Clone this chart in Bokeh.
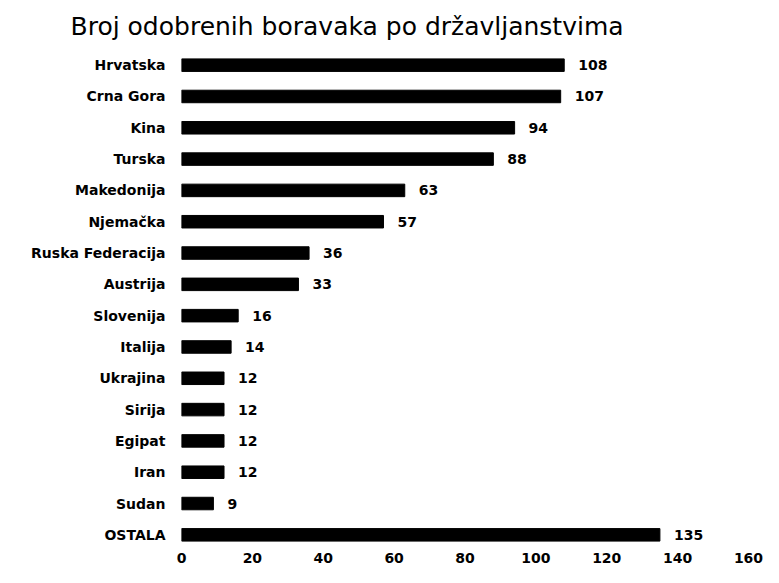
from bokeh.plotting import figure
from bokeh.models import ColumnDataSource, FactorRange, Range1d, FixedTicker, LabelSet
from bokeh.core.properties import value
from bokeh.embed import file_html
from bokeh.resources import INLINE

categories = ["Hrvatska", "Crna Gora", "Kina", "Turska", "Makedonija", "Njemačka",
              "Ruska Federacija", "Austrija", "Slovenija", "Italija", "Ukrajina",
              "Sirija", "Egipat", "Iran", "Sudan", "OSTALA"]
values = [108, 107, 94, 88, 63, 57, 36, 33, 16, 14, 12, 12, 12, 12, 9, 135]
x_ticks = [0, 20, 40, 60, 80, 100, 120, 140, 160]

source = ColumnDataSource(data=dict(cat=categories, val=values,
                                    lbl=[str(v) for v in values]))

p = figure(width=763, height=567, output_backend="svg", toolbar_location=None,
           y_range=FactorRange(factors=list(reversed(categories))),
           x_range=Range1d(0, 160),
           min_border_left=181, min_border_right=15, min_border_top=48,
           min_border_bottom=17)

p.hbar(y="cat", right="val", left=0, height=0.4, source=source,
       fill_color="black", line_color="black")

labels = LabelSet(x="val", y="cat", text="lbl", source=source, x_offset=14,
                  text_baseline="middle", text_font_size="14px",
                  text_font_style="bold", text_font=value("DejaVu Sans"),
                  text_color="black")
p.add_layout(labels)

p.title.text = "Broj odobrenih boravaka po državljanstvima"
p.title.text_font = "DejaVu Sans"
p.title.text_font_size = "25px"
p.title.text_font_style = "normal"
p.title.text_color = "black"
p.title.align = "left"
p.title.offset = -111
p.title.standoff = 18

p.xaxis.ticker = FixedTicker(ticks=x_ticks)
for ax in (p.xaxis[0], p.yaxis[0]):
    ax.axis_line_color = None
    ax.major_tick_line_color = None
    ax.minor_tick_line_color = None
    ax.major_tick_out = 0
    ax.major_tick_in = 0
    ax.major_label_text_font = "DejaVu Sans"
    ax.major_label_text_font_style = "bold"
    ax.major_label_text_color = "black"
p.xaxis.major_label_text_font_size = "14px"
p.yaxis.major_label_text_font_size = "14px"
p.xaxis.major_label_standoff = 2
p.yaxis.major_label_standoff = 16

p.xgrid.grid_line_color = None
p.ygrid.grid_line_color = None
p.outline_line_color = None
p.background_fill_color = "white"
p.border_fill_color = "white"

open("out.html", "w").write(file_html(p, INLINE))
